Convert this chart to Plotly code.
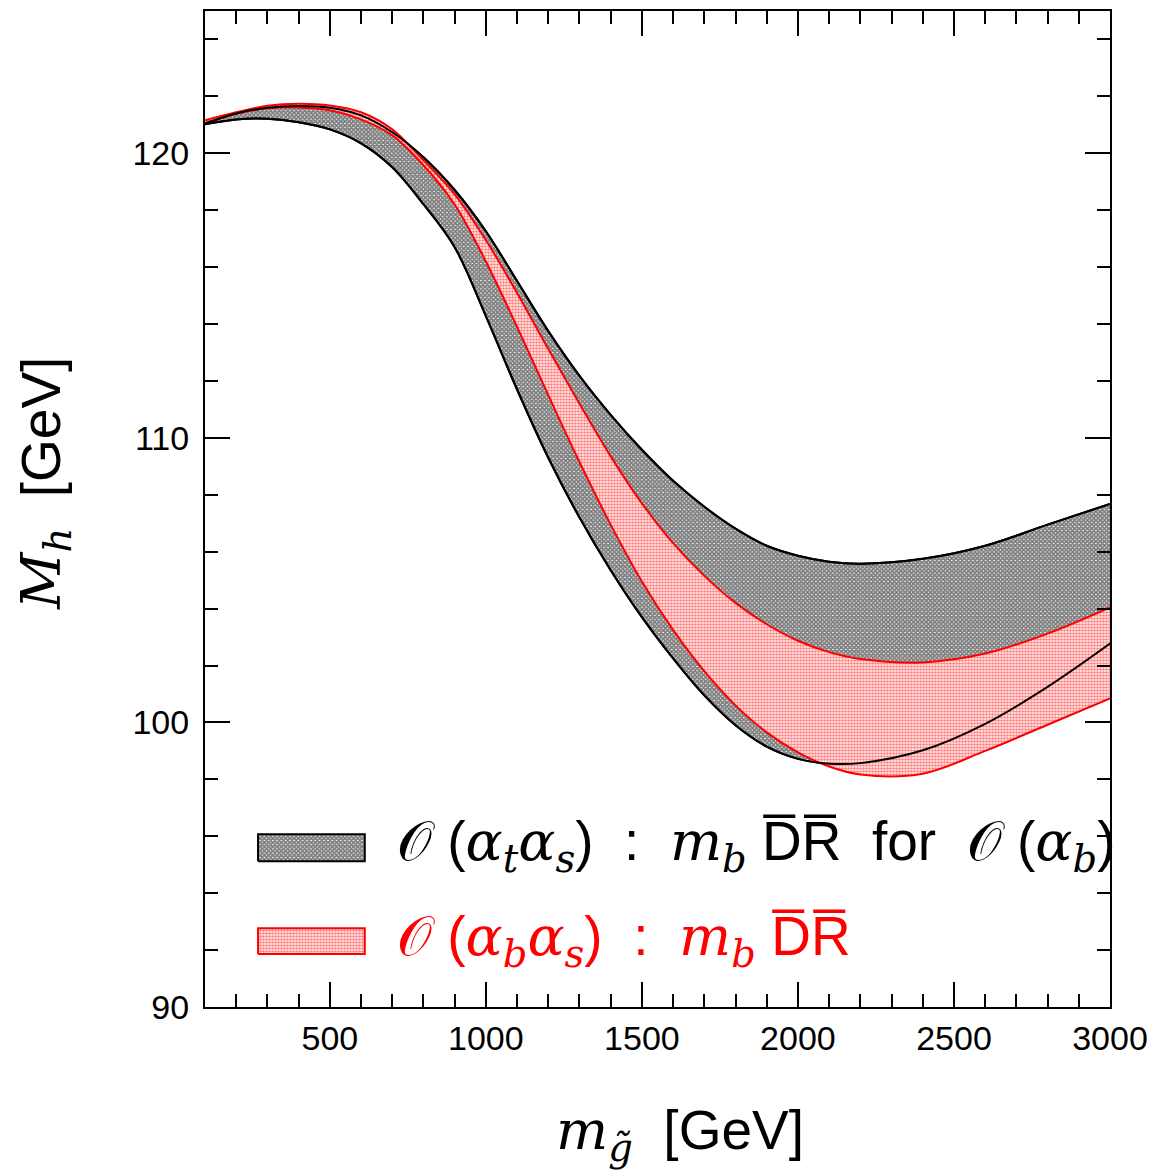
import plotly.graph_objects as go

# Gluino mass grid [GeV]
m_gluino = [100, 200, 300, 400, 500, 600, 700, 800, 900, 1000, 1100, 1200, 1300,
            1400, 1500, 1600, 1700, 1800, 1900, 2000, 2100, 2200, 2400, 2600, 2800, 3000]

# O(alpha_t alpha_s) band: m_b DR-bar for O(alpha_b)
at_upper = [121.05, 121.40, 121.60, 121.66, 121.60, 121.33, 120.74, 119.86, 118.71, 117.26,
            115.51, 113.75, 112.18, 110.81, 109.58, 108.49, 107.58, 106.81, 106.21, 105.86,
            105.65, 105.58, 105.75, 106.21, 106.95, 107.68]
at_lower = [121.02, 121.19, 121.21, 121.09, 120.84, 120.35, 119.51, 118.21, 116.70, 114.28,
            111.70, 109.30, 107.20, 105.35, 103.70, 102.25, 100.95, 99.90, 99.15, 98.72,
            98.55, 98.57, 99.02, 99.95, 101.25, 102.77]

# O(alpha_b alpha_s) band: m_b DR-bar
ab_upper = [121.16, 121.44, 121.67, 121.74, 121.68, 121.44, 120.84, 119.75, 118.56, 116.95,
            115.09, 113.12, 111.20, 109.35, 107.70, 106.30, 105.15, 104.20, 103.45, 102.87,
            102.47, 102.23, 102.11, 102.42, 103.12, 104.04]
ab_lower = [121.05, 121.39, 121.58, 121.61, 121.51, 121.19, 120.63, 119.58, 118.20, 116.20,
            113.90, 111.50, 109.15, 106.95, 104.95, 103.25, 101.80, 100.60, 99.65, 98.95,
            98.45, 98.17, 98.20, 99.00, 99.92, 100.84]

BLACK = "black"
RED = "#ff0000"
SANS = "Liberation Sans, Arial, sans-serif"
SERIF = "DejaVu Serif, Liberation Serif, serif"

black_pattern = dict(shape="x", fgcolor="black", bgcolor="white", size=3, solidity=0.85)
red_pattern = dict(shape=".", fgcolor=RED, bgcolor="white", size=3, solidity=0.6)

spline = dict(shape="spline", smoothing=1.0, width=2)

fig = go.Figure()

# black band
fig.add_trace(go.Scatter(x=m_gluino, y=at_lower, mode="lines",
                         line=dict(color=BLACK, **spline), showlegend=False))
fig.add_trace(go.Scatter(x=m_gluino, y=at_upper, mode="lines", fill="tonexty",
                         fillpattern=black_pattern, fillcolor="white",
                         line=dict(color=BLACK, **spline), showlegend=False))
# red band
fig.add_trace(go.Scatter(x=m_gluino, y=ab_lower, mode="lines",
                         line=dict(color=RED, **spline), showlegend=False))
fig.add_trace(go.Scatter(x=m_gluino, y=ab_upper, mode="lines", fill="tonexty",
                         fillpattern=red_pattern, fillcolor="white",
                         line=dict(color=RED, **spline), showlegend=False))
# black edges drawn on top of the red band
fig.add_trace(go.Scatter(x=m_gluino, y=at_lower, mode="lines",
                         line=dict(color=BLACK, **spline), showlegend=False))
fig.add_trace(go.Scatter(x=m_gluino, y=at_upper, mode="lines",
                         line=dict(color=BLACK, **spline), showlegend=False))

# legend swatches
sw_x = [270, 612, 612, 270, 270]
fig.add_trace(go.Scatter(x=sw_x, y=[95.12, 95.12, 96.07, 96.07, 95.12], mode="lines",
                         fill="toself", fillpattern=black_pattern, fillcolor="white",
                         line=dict(color=BLACK, width=2), showlegend=False))
fig.add_trace(go.Scatter(x=sw_x, y=[91.86, 91.86, 92.77, 92.77, 91.86], mode="lines",
                         fill="toself", fillpattern=red_pattern, fillcolor="white",
                         line=dict(color=RED, width=2), showlegend=False))

def serif(t):
    return f"<span style='font-family:{SERIF}'>{t}</span>"

line1 = (serif("𝒪") + " (" + serif("<i>α</i><sub><i>t</i></sub><i>α</i><sub><i>s</i></sub>") + ")  :  "
         + serif("<i>m</i><sub><i>b</i></sub>") + " D̅R̅  for  " + serif("𝒪") + " ("
         + serif("<i>α</i><sub><i>b</i></sub>") + ")")
line2 = (serif("𝒪") + " (" + serif("<i>α</i><sub><i>b</i></sub><i>α</i><sub><i>s</i></sub>") + ")  :  "
         + serif("<i>m</i><sub><i>b</i></sub>") + " D̅R̅")

fig.add_annotation(x=0.21, y=0.1623, xref="paper", yref="paper", xanchor="left", yanchor="middle",
                   text=line1, showarrow=False, font=dict(family=SANS, size=55, color=BLACK))
fig.add_annotation(x=0.21, y=0.0671, xref="paper", yref="paper", xanchor="left", yanchor="middle",
                   text=line2, showarrow=False, font=dict(family=SANS, size=55, color=RED))

# axis titles
fig.add_annotation(x=0.525, y=-0.128, xref="paper", yref="paper", xanchor="center", yanchor="middle",
                   text=serif("<i>m</i><sub><i>g̃</i></sub>") + "  [GeV]", showarrow=False,
                   font=dict(family=SANS, size=55, color=BLACK))
fig.add_annotation(x=-0.177, y=0.526, xref="paper", yref="paper", xanchor="center", yanchor="middle",
                   text=serif("<i>M</i><sub><i>h</i></sub>") + "  [GeV]", showarrow=False,
                   textangle=-90, font=dict(family=SANS, size=55, color=BLACK))

axis_common = dict(ticks="inside", mirror="allticks", showline=True, linewidth=2, linecolor=BLACK,
                   tickwidth=1.5, tickcolor=BLACK, ticklen=25, showgrid=False, zeroline=False,
                   tickfont=dict(family=SANS, size=34, color=BLACK))

fig.update_xaxes(range=[100, 3000], tick0=0, dtick=500, ticklabelstandoff=0,
                 minor=dict(dtick=100, ticks="inside", ticklen=13, tickwidth=1.5, tickcolor=BLACK,
                            showgrid=False),
                 **axis_common)
fig.update_yaxes(range=[90, 125], tick0=90, dtick=10, ticklabelstandoff=7,
                 minor=dict(dtick=2, ticks="inside", ticklen=13, tickwidth=1.5, tickcolor=BLACK,
                            showgrid=False),
                 **axis_common)

fig.update_layout(width=1157, height=1173, plot_bgcolor="white", paper_bgcolor="white",
                  margin=dict(l=205, r=47, t=9, b=166), showlegend=False)

fig.write_html("out.html")
